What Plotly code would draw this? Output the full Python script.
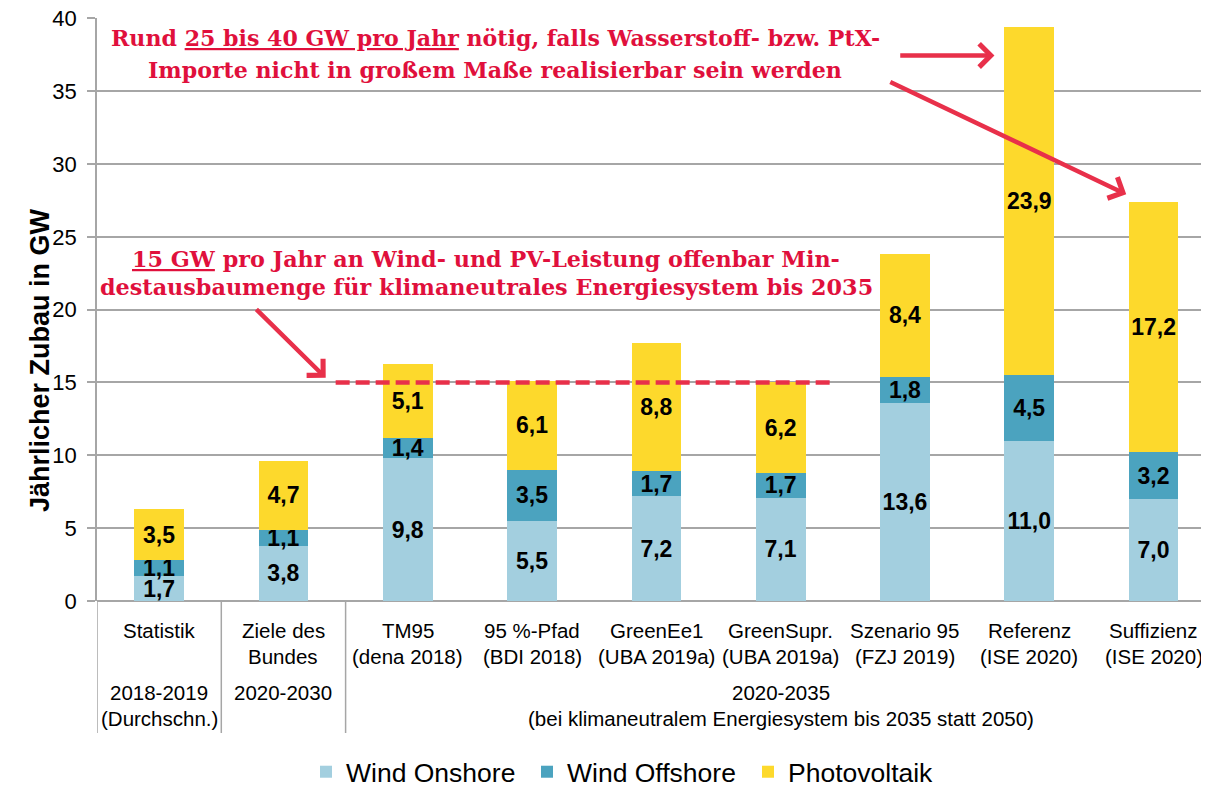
import plotly.graph_objects as go

# categories and values (GW per year)
categories = ['Statistik', 'Ziele des Bundes', 'TM95', '95 %-Pfad', 'GreenEe1',
              'GreenSupr.', 'Szenario 95', 'Referenz', 'Suffizienz']
label_line1 = ['Statistik', 'Ziele des', 'TM95', '95 %-Pfad', 'GreenEe1',
               'GreenSupr.', 'Szenario 95', 'Referenz', 'Suffizienz']
label_line2 = ['', 'Bundes', '(dena 2018)', '(BDI 2018)', '(UBA 2019a)',
               '(UBA 2019a)', '(FZJ 2019)', '(ISE 2020)', '(ISE 2020)']
group_line1 = ['2018-2019', '2020-2030', '2020-2035']
group_line2 = ['(Durchschn.)', '', '(bei klimaneutralem Energiesystem bis 2035 statt 2050)']
group_center = [0, 1, 5]

wind_onshore = [1.7, 3.8, 9.8, 5.5, 7.2, 7.1, 13.6, 11.0, 7.0]
wind_offshore = [1.1, 1.1, 1.4, 3.5, 1.7, 1.7, 1.8, 4.5, 3.2]
photovoltaik = [3.5, 4.7, 5.1, 6.1, 8.8, 6.2, 8.4, 23.9, 17.2]

y_ticks = [0, 5, 10, 15, 20, 25, 30, 35, 40]
min_level = 15  # GW per year, red dashed line

red_text = '#e0103c'
red_arrow = '#e8304a'
grid = '#a6a6a6'
x = list(range(len(categories)))

fig = go.Figure()

series = [('Wind Onshore', wind_onshore, '#a3cfdf'),
          ('Wind Offshore', wind_offshore, '#4ba3bf'),
          ('Photovoltaik', photovoltaik, '#fdd92c')]
for name, vals, col in series:
    fig.add_trace(go.Bar(
        x=x, y=vals, name=name, marker=dict(color=col, line=dict(width=0)),
        texttemplate='%{y:.1f}', textposition='inside', insidetextanchor='middle',
        textangle=0, constraintext='none',
        textfont=dict(family='Liberation Sans, Arial', size=23, color='black', weight='bold'),
    ))

# red dashed minimum line
fig.add_shape(type='line', xref='x', yref='y', x0=1.42, x1=5.44, y0=min_level, y1=min_level,
              line=dict(color=red_arrow, width=4.5, dash='14px,6px'))

# page is offset by the 8px body margin, so positions below are page pixels
PLOT_W = 1112
PLOT_H = 583


def px_x(px):
    return (px - 97) / PLOT_W


def py(px):
    return (601 - px) / PLOT_H


# multi-level category axis dividers
for xd in [-0.5, 0.5, 1.5]:
    fig.add_shape(type='line', xref='x', yref='paper', x0=xd, x1=xd, y0=0, y1=py(733),
                  line=dict(color=grid, width=1.5))

ann = []
for i in x:
    ann.append(dict(x=i, y=py(630), xref='x', yref='paper', text=label_line1[i],
                    showarrow=False, yanchor='middle', font=dict(size=20.5)))
    if label_line2[i]:
        ann.append(dict(x=i, y=py(656), xref='x', yref='paper', text=label_line2[i],
                        showarrow=False, yanchor='middle', font=dict(size=20.5)))
for g in range(len(group_line1)):
    ann.append(dict(x=group_center[g], y=py(692), xref='x', yref='paper', text=group_line1[g],
                    showarrow=False, yanchor='middle', font=dict(size=20.5)))
    if group_line2[g]:
        ann.append(dict(x=group_center[g], y=py(718), xref='x', yref='paper', text=group_line2[g],
                        showarrow=False, yanchor='middle', font=dict(size=20.5)))

# y axis title
ann.append(dict(x=px_x(23), y=py(360), xref='paper', yref='paper',
                text='<b>Jährlicher Zubau in GW</b>', textangle=-90, showarrow=False,
                font=dict(size=27)))

# red comments
serif = dict(family='DejaVu Serif, Liberation Serif, serif', size=22.1, color=red_text, weight='bold')
serif2 = dict(serif, size=22.3)
notes = [
    (495, 38, 'Rund <u>25 bis 40 GW pro Jahr</u> nötig, falls Wasserstoff- bzw. PtX-', serif),
    (495, 70, 'Importe nicht in großem Maße realisierbar sein werden', serif),
    (486, 259, '<u>15 GW</u> pro Jahr an Wind- und PV-Leistung offenbar Min-', serif2),
    (486, 287, 'destausbaumenge für klimaneutrales Energiesystem bis 2035', serif2),
]
for px, pyy, t, f in notes:
    ann.append(dict(x=px_x(px), y=py(pyy), xref='paper', yref='paper', text=t,
                    showarrow=False, xanchor='center', yanchor='middle', font=f))

# arrows (head x,y ; tail ax,ay in data units)
arrows = [(6.72, 37.45, 5.95, 37.45), (7.78, 27.92, 5.87, 35.67), (1.34, 15.32, 0.77, 20.12)]
for hx, hy, tx, ty in arrows:
    ann.append(dict(x=hx, y=hy, ax=tx, ay=ty, xref='x', yref='y', axref='x', ayref='y',
                    text='', showarrow=True, arrowhead=4, arrowsize=1, arrowwidth=4.5,
                    arrowcolor=red_arrow, standoff=0))

fig.update_layout(
    width=1201, height=777,
    margin=dict(l=89, r=0, t=10, b=184, autoexpand=False),
    barmode='stack', bargap=0.6,
    separators=',.',
    paper_bgcolor='white', plot_bgcolor='white',
    font=dict(family='Liberation Sans, Arial', color='black', size=20),
    xaxis=dict(range=[-0.5, 8.446], showticklabels=False, showgrid=False, zeroline=False,
               showline=False, ticks=''),
    yaxis=dict(range=[0, 40.02], tickmode='array', tickvals=y_ticks,
               showgrid=True, gridcolor=grid, gridwidth=1.5,
               zeroline=True, zerolinecolor=grid, zerolinewidth=1.5,
               showline=True, linecolor=grid, linewidth=1.5,
               ticks='outside', ticklen=8, tickcolor=grid, tickwidth=1.5,
               tickfont=dict(size=22), ticklabelstandoff=6, ticklabeloverflow='allow'),
    legend=dict(orientation='h', x=px_x(306), y=py(772), xanchor='left', yanchor='middle',
                font=dict(size=26.5), traceorder='normal', entrywidth=176, entrywidthmode='pixels'),
    annotations=ann,
    showlegend=True,
)

fig.write_html('out.html')
